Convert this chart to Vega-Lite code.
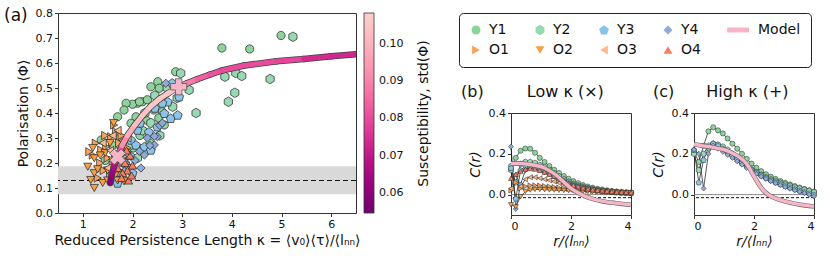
{
  "$schema": "https://vega.github.io/schema/vega-lite/v6.json",
  "padding": {"left": 3, "top": 6, "right": 3, "bottom": 3},
  "config": {
    "font": "DejaVu Sans",
    "view": {"stroke": "#333", "strokeWidth": 1},
    "axis": {"domain": false, "grid": false, "tickColor": "#333", "tickSize": 3.5, "labelColor": "#111", "labelFontSize": 11, "titleFontSize": 14, "titleFontWeight": "normal", "titleColor": "#111", "labelPadding": 2, "labelOverlap": false},
    "title": {"fontSize": 16, "fontWeight": "normal", "color": "#111"},
    "legend": {"labelColor": "#111", "titleColor": "#111"}
  },
  "datasets": {
    "scatter": [
      {"g":"Y1","k":3.8,"p":0.66},{"g":"Y1","k":4.36,"p":0.656},{"g":"Y1","k":4.99,"p":0.71},{"g":"Y1","k":2.87,"p":0.565},{"g":"Y1","k":2.51,"p":0.525},{"g":"Y1","k":2.37,"p":0.505},{"g":"Y1","k":2.54,"p":0.499},{"g":"Y1","k":2.2,"p":0.445},{"g":"Y1","k":2.1,"p":0.439},{"g":"Y1","k":2.0,"p":0.435},{"g":"Y1","k":1.87,"p":0.439},{"g":"Y1","k":1.83,"p":0.412},{"g":"Y1","k":2.14,"p":0.445},{"g":"Y1","k":2.3,"p":0.453},{"g":"Y1","k":1.7,"p":0.385},{"g":"Y1","k":1.97,"p":0.359},{"g":"Y1","k":2.43,"p":0.412},{"g":"Y1","k":2.6,"p":0.405},{"g":"Y1","k":2.27,"p":0.372},{"g":"Y1","k":2.53,"p":0.38},{"g":"Y1","k":2.64,"p":0.352},{"g":"Y1","k":2.07,"p":0.385},{"g":"Y1","k":1.37,"p":0.292},{"g":"Y1","k":1.9,"p":0.3},{"g":"Y1","k":2.15,"p":0.31},{"g":"Y1","k":1.6,"p":0.27},{"g":"Y1","k":1.45,"p":0.21},{"g":"Y1","k":1.8,"p":0.245},{"g":"Y1","k":2.35,"p":0.28},{"g":"Y1","k":2.02,"p":0.26},
      {"g":"Y2","k":5.23,"p":0.705},{"g":"Y2","k":3.86,"p":0.545},{"g":"Y2","k":4.08,"p":0.56},{"g":"Y2","k":4.2,"p":0.548},{"g":"Y2","k":4.77,"p":0.536},{"g":"Y2","k":4.06,"p":0.481},{"g":"Y2","k":3.93,"p":0.445},{"g":"Y2","k":3.28,"p":0.4},{"g":"Y2","k":3.14,"p":0.492},{"g":"Y2","k":2.97,"p":0.559},{"g":"Y2","k":2.81,"p":0.425},{"g":"Y2","k":2.37,"p":0.36},{"g":"Y2","k":2.45,"p":0.47},{"g":"Y2","k":2.7,"p":0.5},{"g":"Y2","k":2.2,"p":0.33},{"g":"Y2","k":2.55,"p":0.31},{"g":"Y2","k":1.95,"p":0.27},{"g":"Y2","k":2.25,"p":0.4},{"g":"Y2","k":2.9,"p":0.46},{"g":"Y2","k":1.75,"p":0.3},{"g":"Y2","k":2.1,"p":0.22},
      {"g":"Y3","k":2.71,"p":0.445},{"g":"Y3","k":2.94,"p":0.465},{"g":"Y3","k":2.77,"p":0.379},{"g":"Y3","k":2.91,"p":0.392},{"g":"Y3","k":2.64,"p":0.399},{"g":"Y3","k":2.5,"p":0.345},{"g":"Y3","k":2.1,"p":0.332},{"g":"Y3","k":2.33,"p":0.324},{"g":"Y3","k":1.97,"p":0.292},{"g":"Y3","k":2.07,"p":0.272},{"g":"Y3","k":2.24,"p":0.265},{"g":"Y3","k":2.37,"p":0.252},{"g":"Y3","k":2.8,"p":0.52},{"g":"Y3","k":2.6,"p":0.44},{"g":"Y3","k":2.45,"p":0.42},{"g":"Y3","k":2.15,"p":0.36},{"g":"Y3","k":1.85,"p":0.2},{"g":"Y3","k":1.95,"p":0.23},{"g":"Y3","k":1.6,"p":0.14},{"g":"Y3","k":1.75,"p":0.16},{"g":"Y3","k":2.0,"p":0.16},{"g":"Y3","k":1.7,"p":0.12},
      {"g":"Y4","k":2.67,"p":0.519},{"g":"Y4","k":2.5,"p":0.305},{"g":"Y4","k":2.44,"p":0.272},{"g":"Y4","k":2.24,"p":0.232},{"g":"Y4","k":2.44,"p":0.307},{"g":"Y4","k":2.17,"p":0.18},{"g":"Y4","k":2.14,"p":0.247},{"g":"Y4","k":2.3,"p":0.3},{"g":"Y4","k":2.55,"p":0.35},{"g":"Y4","k":1.9,"p":0.19},{"g":"Y4","k":2.05,"p":0.21},{"g":"Y4","k":1.85,"p":0.17},{"g":"Y4","k":2.6,"p":0.36},{"g":"Y4","k":2.35,"p":0.27},
      {"g":"O1","k":1.63,"p":0.352},{"g":"O1","k":1.67,"p":0.325},{"g":"O1","k":1.57,"p":0.305},{"g":"O1","k":1.73,"p":0.28},{"g":"O1","k":1.47,"p":0.265},{"g":"O1","k":1.37,"p":0.252},{"g":"O1","k":1.2,"p":0.232},{"g":"O1","k":1.26,"p":0.279},{"g":"O1","k":1.13,"p":0.245},{"g":"O1","k":1.5,"p":0.22},{"g":"O1","k":1.6,"p":0.19},{"g":"O1","k":1.7,"p":0.17},{"g":"O1","k":1.42,"p":0.17},{"g":"O1","k":1.55,"p":0.15},{"g":"O1","k":1.8,"p":0.22},{"g":"O1","k":1.35,"p":0.2},{"g":"O1","k":1.65,"p":0.24},{"g":"O1","k":1.78,"p":0.31},{"g":"O1","k":1.9,"p":0.26},{"g":"O1","k":1.45,"p":0.31},{"g":"O1","k":1.3,"p":0.14},
      {"g":"O2","k":1.1,"p":0.185},{"g":"O2","k":1.23,"p":0.219},{"g":"O2","k":1.23,"p":0.159},{"g":"O2","k":1.16,"p":0.132},{"g":"O2","k":1.23,"p":0.1},{"g":"O2","k":1.83,"p":0.127},{"g":"O2","k":1.4,"p":0.12},{"g":"O2","k":1.5,"p":0.13},{"g":"O2","k":1.3,"p":0.175},{"g":"O2","k":1.45,"p":0.24},{"g":"O2","k":1.55,"p":0.28},{"g":"O2","k":1.6,"p":0.21},{"g":"O2","k":1.75,"p":0.2},{"g":"O2","k":1.35,"p":0.23},{"g":"O2","k":1.2,"p":0.26},{"g":"O2","k":1.65,"p":0.15},{"g":"O2","k":1.9,"p":0.18},{"g":"O2","k":1.7,"p":0.13},{"g":"O2","k":1.5,"p":0.17},{"g":"O2","k":1.62,"p":0.36},
      {"g":"O3","k":1.7,"p":0.33},{"g":"O3","k":1.8,"p":0.29},{"g":"O3","k":1.55,"p":0.25},{"g":"O3","k":1.85,"p":0.24},{"g":"O3","k":1.6,"p":0.31},{"g":"O3","k":1.4,"p":0.28},{"g":"O3","k":1.75,"p":0.26},{"g":"O3","k":1.9,"p":0.3},{"g":"O3","k":1.5,"p":0.18},
      {"g":"O4","k":1.85,"p":0.2},{"g":"O4","k":1.9,"p":0.17},{"g":"O4","k":1.95,"p":0.23},{"g":"O4","k":1.8,"p":0.16},{"g":"O4","k":1.92,"p":0.13},{"g":"O4","k":1.7,"p":0.18},{"g":"O4","k":1.88,"p":0.25},{"g":"O4","k":2.0,"p":0.19},{"g":"O4","k":1.78,"p":0.14},{"g":"O4","k":1.98,"p":0.15}
    ],
    "model": [
      {"k1":1.55,"p1":0.12,"k2":1.58,"p2":0.15,"s":0.058},
      {"k1":1.58,"p1":0.15,"k2":1.62,"p2":0.18,"s":0.062},
      {"k1":1.62,"p1":0.18,"k2":1.66,"p2":0.205,"s":0.067},
      {"k1":1.66,"p1":0.205,"k2":1.71,"p2":0.232,"s":0.073},
      {"k1":1.71,"p1":0.232,"k2":1.79,"p2":0.27,"s":0.082},
      {"k1":1.79,"p1":0.27,"k2":1.9,"p2":0.31,"s":0.092},
      {"k1":1.9,"p1":0.31,"k2":2.05,"p2":0.352,"s":0.099},
      {"k1":2.05,"p1":0.352,"k2":2.2,"p2":0.39,"s":0.103},
      {"k1":2.2,"p1":0.39,"k2":2.37,"p2":0.427,"s":0.105},
      {"k1":2.37,"p1":0.427,"k2":2.55,"p2":0.457,"s":0.106},
      {"k1":2.55,"p1":0.457,"k2":2.71,"p2":0.478,"s":0.106},
      {"k1":2.71,"p1":0.478,"k2":2.85,"p2":0.495,"s":0.105},
      {"k1":2.85,"p1":0.495,"k2":2.95,"p2":0.505,"s":0.102},
      {"k1":2.95,"p1":0.505,"k2":3.1,"p2":0.519,"s":0.096},
      {"k1":3.1,"p1":0.519,"k2":3.3,"p2":0.535,"s":0.089},
      {"k1":3.3,"p1":0.535,"k2":3.55,"p2":0.553,"s":0.084},
      {"k1":3.55,"p1":0.553,"k2":3.8,"p2":0.57,"s":0.081},
      {"k1":3.8,"p1":0.57,"k2":4.25,"p2":0.59,"s":0.08},
      {"k1":4.25,"p1":0.59,"k2":4.9,"p2":0.607,"s":0.08},
      {"k1":4.9,"p1":0.607,"k2":5.45,"p2":0.616,"s":0.079},
      {"k1":5.45,"p1":0.616,"k2":6.0,"p2":0.627,"s":0.074},
      {"k1":6.0,"p1":0.627,"k2":6.5,"p2":0.635,"s":0.073}
    ],
    "markers": [{"m":"low","k":1.7,"p":0.225},{"m":"high","k":2.93,"p":0.505}],
    "modelB": [
      {"r":0,"c":0.152},{"r":0.25,"c":0.153},{"r":0.5,"c":0.15},{"r":0.75,"c":0.145},{"r":1.0,"c":0.137},{"r":1.25,"c":0.12},{"r":1.5,"c":0.096},{"r":1.75,"c":0.063},{"r":2.0,"c":0.03},{"r":2.25,"c":0.008},{"r":2.5,"c":-0.01},{"r":2.75,"c":-0.022},{"r":3.0,"c":-0.031},{"r":3.5,"c":-0.042},{"r":4.0,"c":-0.05}
    ],
    "modelC": [
      {"r":0,"c":0.247},{"r":0.25,"c":0.24},{"r":0.5,"c":0.235},{"r":0.75,"c":0.228},{"r":1.0,"c":0.22},{"r":1.25,"c":0.205},{"r":1.5,"c":0.185},{"r":1.75,"c":0.152},{"r":2.0,"c":0.09},{"r":2.25,"c":0.032},{"r":2.5,"c":-0.003},{"r":2.75,"c":-0.02},{"r":3.0,"c":-0.032},{"r":3.5,"c":-0.048},{"r":4.0,"c":-0.058}
    ],
    "corrB": [
      {"g":"Y1","r":0,"c":0.14},{"g":"Y1","r":0.16,"c":0.18},{"g":"Y1","r":0.32,"c":0.215},{"g":"Y1","r":0.48,"c":0.226},{"g":"Y1","r":0.64,"c":0.225},{"g":"Y1","r":0.8,"c":0.205},{"g":"Y1","r":0.96,"c":0.18},{"g":"Y1","r":1.12,"c":0.16},{"g":"Y1","r":1.28,"c":0.14},{"g":"Y1","r":1.44,"c":0.122},{"g":"Y1","r":1.6,"c":0.106},{"g":"Y1","r":1.76,"c":0.091},{"g":"Y1","r":1.92,"c":0.078},{"g":"Y1","r":2.08,"c":0.066},{"g":"Y1","r":2.24,"c":0.056},{"g":"Y1","r":2.4,"c":0.047},{"g":"Y1","r":2.56,"c":0.04},{"g":"Y1","r":2.72,"c":0.034},{"g":"Y1","r":2.88,"c":0.029},{"g":"Y1","r":3.04,"c":0.025},{"g":"Y1","r":3.2,"c":0.021},{"g":"Y1","r":3.36,"c":0.018},{"g":"Y1","r":3.52,"c":0.015},{"g":"Y1","r":3.68,"c":0.013},{"g":"Y1","r":3.84,"c":0.011},{"g":"Y1","r":4.0,"c":0.01},
      {"g":"Y2","r":0,"c":0.12},{"g":"Y2","r":0.16,"c":0.06},{"g":"Y2","r":0.32,"c":0.15},{"g":"Y2","r":0.48,"c":0.16},{"g":"Y2","r":0.64,"c":0.16},{"g":"Y2","r":0.8,"c":0.155},{"g":"Y2","r":0.96,"c":0.145},{"g":"Y2","r":1.12,"c":0.135},{"g":"Y2","r":1.28,"c":0.12},{"g":"Y2","r":1.44,"c":0.105},{"g":"Y2","r":1.6,"c":0.09},{"g":"Y2","r":1.76,"c":0.075},{"g":"Y2","r":1.92,"c":0.063},{"g":"Y2","r":2.08,"c":0.053},{"g":"Y2","r":2.24,"c":0.045},{"g":"Y2","r":2.4,"c":0.038},{"g":"Y2","r":2.56,"c":0.032},{"g":"Y2","r":2.72,"c":0.027},{"g":"Y2","r":2.88,"c":0.023},{"g":"Y2","r":3.04,"c":0.02},{"g":"Y2","r":3.2,"c":0.017},{"g":"Y2","r":3.36,"c":0.015},{"g":"Y2","r":3.52,"c":0.013},{"g":"Y2","r":3.68,"c":0.011},{"g":"Y2","r":3.84,"c":0.01},{"g":"Y2","r":4.0,"c":0.009},
      {"g":"Y3","r":0,"c":0.13},{"g":"Y3","r":0.16,"c":-0.02},{"g":"Y3","r":0.32,"c":0.12},{"g":"Y3","r":0.48,"c":0.14},{"g":"Y3","r":0.64,"c":0.14},{"g":"Y3","r":0.8,"c":0.135},{"g":"Y3","r":0.96,"c":0.125},{"g":"Y3","r":1.12,"c":0.115},{"g":"Y3","r":1.28,"c":0.105},{"g":"Y3","r":1.44,"c":0.092},{"g":"Y3","r":1.6,"c":0.08},{"g":"Y3","r":1.76,"c":0.068},{"g":"Y3","r":1.92,"c":0.058},{"g":"Y3","r":2.08,"c":0.049},{"g":"Y3","r":2.24,"c":0.042},{"g":"Y3","r":2.4,"c":0.036},{"g":"Y3","r":2.56,"c":0.031},{"g":"Y3","r":2.72,"c":0.026},{"g":"Y3","r":2.88,"c":0.022},{"g":"Y3","r":3.04,"c":0.019},{"g":"Y3","r":3.2,"c":0.016},{"g":"Y3","r":3.36,"c":0.014},{"g":"Y3","r":3.52,"c":0.012},{"g":"Y3","r":3.68,"c":0.01},{"g":"Y3","r":3.84,"c":0.009},{"g":"Y3","r":4.0,"c":0.008},
      {"g":"Y4","r":0,"c":0.235},{"g":"Y4","r":0.16,"c":-0.07},{"g":"Y4","r":0.32,"c":0.05},{"g":"Y4","r":0.48,"c":0.12},{"g":"Y4","r":0.64,"c":0.135},{"g":"Y4","r":0.8,"c":0.13},{"g":"Y4","r":0.96,"c":0.12},{"g":"Y4","r":1.12,"c":0.11},{"g":"Y4","r":1.28,"c":0.1},{"g":"Y4","r":1.44,"c":0.088},{"g":"Y4","r":1.6,"c":0.076},{"g":"Y4","r":1.76,"c":0.065},{"g":"Y4","r":1.92,"c":0.055},{"g":"Y4","r":2.08,"c":0.047},{"g":"Y4","r":2.24,"c":0.04},{"g":"Y4","r":2.4,"c":0.034},{"g":"Y4","r":2.56,"c":0.029},{"g":"Y4","r":2.72,"c":0.025},{"g":"Y4","r":2.88,"c":0.021},{"g":"Y4","r":3.04,"c":0.018},{"g":"Y4","r":3.2,"c":0.016},{"g":"Y4","r":3.36,"c":0.014},{"g":"Y4","r":3.52,"c":0.012},{"g":"Y4","r":3.68,"c":0.01},{"g":"Y4","r":3.84,"c":0.009},{"g":"Y4","r":4.0,"c":0.008},
      {"g":"O1","r":0,"c":0.02},{"g":"O1","r":0.16,"c":0.06},{"g":"O1","r":0.32,"c":0.03},{"g":"O1","r":0.48,"c":0.04},{"g":"O1","r":0.64,"c":0.045},{"g":"O1","r":0.8,"c":0.045},{"g":"O1","r":0.96,"c":0.044},{"g":"O1","r":1.12,"c":0.042},{"g":"O1","r":1.28,"c":0.04},{"g":"O1","r":1.44,"c":0.037},{"g":"O1","r":1.6,"c":0.034},{"g":"O1","r":1.76,"c":0.031},{"g":"O1","r":1.92,"c":0.028},{"g":"O1","r":2.08,"c":0.025},{"g":"O1","r":2.24,"c":0.023},{"g":"O1","r":2.4,"c":0.021},{"g":"O1","r":2.56,"c":0.019},{"g":"O1","r":2.72,"c":0.017},{"g":"O1","r":2.88,"c":0.015},{"g":"O1","r":3.04,"c":0.014},{"g":"O1","r":3.2,"c":0.013},{"g":"O1","r":3.36,"c":0.012},{"g":"O1","r":3.52,"c":0.011},{"g":"O1","r":3.68,"c":0.01},{"g":"O1","r":3.84,"c":0.009},{"g":"O1","r":4.0,"c":0.008},
      {"g":"O2","r":0,"c":-0.05},{"g":"O2","r":0.16,"c":-0.06},{"g":"O2","r":0.32,"c":-0.01},{"g":"O2","r":0.48,"c":0.015},{"g":"O2","r":0.64,"c":0.022},{"g":"O2","r":0.8,"c":0.025},{"g":"O2","r":0.96,"c":0.025},{"g":"O2","r":1.12,"c":0.024},{"g":"O2","r":1.28,"c":0.023},{"g":"O2","r":1.44,"c":0.022},{"g":"O2","r":1.6,"c":0.021},{"g":"O2","r":1.76,"c":0.02},{"g":"O2","r":1.92,"c":0.019},{"g":"O2","r":2.08,"c":0.018},{"g":"O2","r":2.24,"c":0.017},{"g":"O2","r":2.4,"c":0.016},{"g":"O2","r":2.56,"c":0.015},{"g":"O2","r":2.72,"c":0.014},{"g":"O2","r":2.88,"c":0.013},{"g":"O2","r":3.04,"c":0.012},{"g":"O2","r":3.2,"c":0.011},{"g":"O2","r":3.36,"c":0.01},{"g":"O2","r":3.52,"c":0.009},{"g":"O2","r":3.68,"c":0.009},{"g":"O2","r":3.84,"c":0.008},{"g":"O2","r":4.0,"c":0.008},
      {"g":"O3","r":0,"c":0.03},{"g":"O3","r":0.16,"c":0.1},{"g":"O3","r":0.32,"c":0.04},{"g":"O3","r":0.48,"c":0.075},{"g":"O3","r":0.64,"c":0.085},{"g":"O3","r":0.8,"c":0.085},{"g":"O3","r":0.96,"c":0.08},{"g":"O3","r":1.12,"c":0.075},{"g":"O3","r":1.28,"c":0.07},{"g":"O3","r":1.44,"c":0.064},{"g":"O3","r":1.6,"c":0.057},{"g":"O3","r":1.76,"c":0.05},{"g":"O3","r":1.92,"c":0.044},{"g":"O3","r":2.08,"c":0.038},{"g":"O3","r":2.24,"c":0.033},{"g":"O3","r":2.4,"c":0.029},{"g":"O3","r":2.56,"c":0.026},{"g":"O3","r":2.72,"c":0.023},{"g":"O3","r":2.88,"c":0.02},{"g":"O3","r":3.04,"c":0.018},{"g":"O3","r":3.2,"c":0.016},{"g":"O3","r":3.36,"c":0.014},{"g":"O3","r":3.52,"c":0.013},{"g":"O3","r":3.68,"c":0.011},{"g":"O3","r":3.84,"c":0.01},{"g":"O3","r":4.0,"c":0.009},
      {"g":"O4","r":0,"c":0.08},{"g":"O4","r":0.16,"c":0.1},{"g":"O4","r":0.32,"c":0.115},{"g":"O4","r":0.48,"c":0.125},{"g":"O4","r":0.64,"c":0.128},{"g":"O4","r":0.8,"c":0.125},{"g":"O4","r":0.96,"c":0.118},{"g":"O4","r":1.12,"c":0.11},{"g":"O4","r":1.28,"c":0.1},{"g":"O4","r":1.44,"c":0.09},{"g":"O4","r":1.6,"c":0.078},{"g":"O4","r":1.76,"c":0.066},{"g":"O4","r":1.92,"c":0.055},{"g":"O4","r":2.08,"c":0.046},{"g":"O4","r":2.24,"c":0.039},{"g":"O4","r":2.4,"c":0.033},{"g":"O4","r":2.56,"c":0.028},{"g":"O4","r":2.72,"c":0.024},{"g":"O4","r":2.88,"c":0.021},{"g":"O4","r":3.04,"c":0.019},{"g":"O4","r":3.2,"c":0.017},{"g":"O4","r":3.36,"c":0.015},{"g":"O4","r":3.52,"c":0.013},{"g":"O4","r":3.68,"c":0.012},{"g":"O4","r":3.84,"c":0.011},{"g":"O4","r":4.0,"c":0.01}
    ],
    "corrC": [
      {"g":"Y1","r":0,"c":0.21},{"g":"Y1","r":0.16,"c":0.16},{"g":"Y1","r":0.32,"c":0.24},{"g":"Y1","r":0.48,"c":0.31},{"g":"Y1","r":0.64,"c":0.33},{"g":"Y1","r":0.8,"c":0.315},{"g":"Y1","r":0.96,"c":0.3},{"g":"Y1","r":1.12,"c":0.275},{"g":"Y1","r":1.28,"c":0.25},{"g":"Y1","r":1.44,"c":0.225},{"g":"Y1","r":1.6,"c":0.2},{"g":"Y1","r":1.76,"c":0.175},{"g":"Y1","r":1.92,"c":0.152},{"g":"Y1","r":2.08,"c":0.132},{"g":"Y1","r":2.24,"c":0.115},{"g":"Y1","r":2.4,"c":0.1},{"g":"Y1","r":2.56,"c":0.088},{"g":"Y1","r":2.72,"c":0.077},{"g":"Y1","r":2.88,"c":0.067},{"g":"Y1","r":3.04,"c":0.058},{"g":"Y1","r":3.2,"c":0.05},{"g":"Y1","r":3.36,"c":0.042},{"g":"Y1","r":3.52,"c":0.035},{"g":"Y1","r":3.68,"c":0.028},{"g":"Y1","r":3.84,"c":0.021},{"g":"Y1","r":4.0,"c":0.015},
      {"g":"Y2","r":0,"c":0.2},{"g":"Y2","r":0.16,"c":0.12},{"g":"Y2","r":0.32,"c":0.2},{"g":"Y2","r":0.48,"c":0.24},{"g":"Y2","r":0.64,"c":0.25},{"g":"Y2","r":0.8,"c":0.245},{"g":"Y2","r":0.96,"c":0.235},{"g":"Y2","r":1.12,"c":0.22},{"g":"Y2","r":1.28,"c":0.2},{"g":"Y2","r":1.44,"c":0.18},{"g":"Y2","r":1.6,"c":0.16},{"g":"Y2","r":1.76,"c":0.14},{"g":"Y2","r":1.92,"c":0.125},{"g":"Y2","r":2.08,"c":0.11},{"g":"Y2","r":2.24,"c":0.097},{"g":"Y2","r":2.4,"c":0.085},{"g":"Y2","r":2.56,"c":0.075},{"g":"Y2","r":2.72,"c":0.066},{"g":"Y2","r":2.88,"c":0.058},{"g":"Y2","r":3.04,"c":0.05},{"g":"Y2","r":3.2,"c":0.043},{"g":"Y2","r":3.36,"c":0.036},{"g":"Y2","r":3.52,"c":0.03},{"g":"Y2","r":3.68,"c":0.024},{"g":"Y2","r":3.84,"c":0.018},{"g":"Y2","r":4.0,"c":0.012},
      {"g":"Y3","r":0,"c":0.22},{"g":"Y3","r":0.16,"c":0.06},{"g":"Y3","r":0.32,"c":0.17},{"g":"Y3","r":0.48,"c":0.23},{"g":"Y3","r":0.64,"c":0.25},{"g":"Y3","r":0.8,"c":0.24},{"g":"Y3","r":0.96,"c":0.225},{"g":"Y3","r":1.12,"c":0.208},{"g":"Y3","r":1.28,"c":0.19},{"g":"Y3","r":1.44,"c":0.172},{"g":"Y3","r":1.6,"c":0.155},{"g":"Y3","r":1.76,"c":0.138},{"g":"Y3","r":1.92,"c":0.122},{"g":"Y3","r":2.08,"c":0.107},{"g":"Y3","r":2.24,"c":0.094},{"g":"Y3","r":2.4,"c":0.082},{"g":"Y3","r":2.56,"c":0.071},{"g":"Y3","r":2.72,"c":0.061},{"g":"Y3","r":2.88,"c":0.052},{"g":"Y3","r":3.04,"c":0.043},{"g":"Y3","r":3.2,"c":0.035},{"g":"Y3","r":3.36,"c":0.027},{"g":"Y3","r":3.52,"c":0.02},{"g":"Y3","r":3.68,"c":0.013},{"g":"Y3","r":3.84,"c":0.006},{"g":"Y3","r":4.0,"c":0.0},
      {"g":"Y4","r":0,"c":0.22},{"g":"Y4","r":0.16,"c":0.2},{"g":"Y4","r":0.32,"c":0.03},{"g":"Y4","r":0.48,"c":0.2},{"g":"Y4","r":0.64,"c":0.24},{"g":"Y4","r":0.8,"c":0.225},{"g":"Y4","r":0.96,"c":0.21},{"g":"Y4","r":1.12,"c":0.195},{"g":"Y4","r":1.28,"c":0.18},{"g":"Y4","r":1.44,"c":0.163},{"g":"Y4","r":1.6,"c":0.147},{"g":"Y4","r":1.76,"c":0.131},{"g":"Y4","r":1.92,"c":0.116},{"g":"Y4","r":2.08,"c":0.102},{"g":"Y4","r":2.24,"c":0.089},{"g":"Y4","r":2.4,"c":0.077},{"g":"Y4","r":2.56,"c":0.066},{"g":"Y4","r":2.72,"c":0.056},{"g":"Y4","r":2.88,"c":0.046},{"g":"Y4","r":3.04,"c":0.037},{"g":"Y4","r":3.2,"c":0.029},{"g":"Y4","r":3.36,"c":0.021},{"g":"Y4","r":3.52,"c":0.014},{"g":"Y4","r":3.68,"c":0.007},{"g":"Y4","r":3.84,"c":0.0},{"g":"Y4","r":4.0,"c":-0.008}
    ]
  },
  "resolve": {"scale": {"fill": "shared", "shape": "shared", "x": "independent", "y": "independent"}},
  "spacing": 30,
  "hconcat": [
    {
      "resolve": {"scale": {"fill": "shared", "shape": "shared", "x": "independent", "y": "independent"}},
      "spacing": 54,
      "hconcat": [
        {
          "width": 298,
          "height": 200,
          "title": {"text": "(a)", "anchor": "start", "frame": "bounds", "baseline": "top", "offset": -18, "dx": -12, "fontSize": 17},
          "layer": [
            {
              "data": {"values": [{"lo": 0.075, "hi": 0.187}]},
              "mark": {"type": "rect", "color": "#d9d9d9"},
              "encoding": {
                "y": {"field": "lo", "type": "quantitative", "scale": {"domain": [0, 0.8], "nice": false}, "axis": {"values": [0,0.1,0.2,0.3,0.4,0.5,0.6,0.7,0.8], "tickCount": 9, "format": ".1f", "title": "Polarisation ⟨Φ⟩", "titlePadding": 5, "labelOverlap": false}},
                "y2": {"field": "hi"}
              }
            },
            {
              "data": {"values": [{}]},
              "mark": {"type": "rule", "color": "#111", "strokeDash": [5, 3], "strokeWidth": 1.2},
              "encoding": {"y": {"datum": 0.13, "type": "quantitative", "axis": {"values": [0,0.1,0.2,0.3,0.4,0.5,0.6,0.7,0.8], "tickCount": 9, "format": ".1f", "title": "Polarisation ⟨Φ⟩", "titlePadding": 5, "labelOverlap": false}}}
            },
            {
              "data": {"name": "scatter"},
              "mark": {"type": "point", "filled": true, "stroke": "#222", "strokeWidth": 0.7, "size": 68, "opacity": 1, "fillOpacity": 1},
              "encoding": {
                "x": {"field": "k", "type": "quantitative", "scale": {"domain": [0.5, 6.5], "nice": false}, "axis": {"values": [1,2,3,4,5,6], "title": "Reduced Persistence Length κ = ⟨v₀⟩⟨τ⟩/⟨lₙₙ⟩", "titlePadding": 4}},
                "y": {"field": "p", "type": "quantitative", "axis": {"values": [0,0.1,0.2,0.3,0.4,0.5,0.6,0.7,0.8], "tickCount": 9, "format": ".1f", "title": "Polarisation ⟨Φ⟩", "titlePadding": 5, "labelOverlap": false}},
                "fill": {"field": "g", "type": "nominal",
                  "scale": {"domain": ["Y1","Y2","Y3","Y4","Model","O1","O2","O3","O4"], "range": ["#8fd39c","#98d8b2","#8cc3e8","#8eaad8","#f7b6c8","#f7a55e","#f6a044","#fab98e","#f57e5f"]},
                  "legend": {"title": null, "orient": "none", "legendX": 401, "legendY": 0, "direction": "horizontal", "columns": 5, "symbolSize": 80, "symbolStrokeColor": "#222", "symbolStrokeWidth": 0.8, "labelFontSize": 14, "labelOffset": 6, "columnPadding": 24, "rowPadding": 6, "padding": 10, "strokeColor": "#222", "cornerRadius": 4, "fillColor": "white"}},
                "shape": {"field": "g", "type": "nominal",
                  "scale": {"domain": ["Y1","Y2","Y3","Y4","Model","O1","O2","O3","O4"], "range": ["circle","M0,-1.15L1,-0.575L1,0.575L0,1.15L-1,0.575L-1,-0.575Z","M0,-1.05L1.094,-0.255L0.676,1.03L-0.676,1.03L-1.094,-0.255Z","diamond","M-4,-0.55L0.9,-0.55L0.9,0.55L-4,0.55Z","triangle-right","triangle-down","triangle-left","triangle-up"]},
                  "legend": {"title": null, "orient": "none", "legendX": 401, "legendY": 0, "direction": "horizontal", "columns": 5, "symbolSize": 80, "symbolStrokeColor": "#222", "symbolStrokeWidth": 0.8, "labelFontSize": 14, "labelOffset": 6, "columnPadding": 24, "rowPadding": 6, "padding": 10, "strokeColor": "#222", "cornerRadius": 4, "fillColor": "white"}}
              }
            },
            {
              "data": {"name": "model"},
              "mark": {"type": "rule", "color": "#444", "strokeWidth": 6.6, "strokeCap": "round", "clip": true},
              "encoding": {
                "x": {"field": "k1", "type": "quantitative"},
                "y": {"field": "p1", "type": "quantitative"},
                "x2": {"field": "k2"},
                "y2": {"field": "p2"}
              }
            },
            {
              "data": {"name": "model"},
              "mark": {"type": "rule", "strokeWidth": 5, "strokeCap": "round", "clip": true},
              "encoding": {
                "x": {"field": "k1", "type": "quantitative"},
                "y": {"field": "p1", "type": "quantitative"},
                "x2": {"field": "k2"},
                "y2": {"field": "p2"},
                "stroke": {"field": "s", "type": "quantitative",
                  "scale": {"scheme": "redpurple", "reverse": true, "domain": [0.0546, 0.1083], "nice": false, "zero": false},
                  "legend": {"type": "gradient", "orient": "none", "legendX": 306, "legendY": 0, "direction": "vertical", "gradientLength": 200, "gradientThickness": 10, "values": [0.06,0.07,0.08,0.09,0.1], "format": ".2f", "title": null, "labelFontSize": 11, "labelOffset": 5, "gradientStrokeColor": "#333", "gradientStrokeWidth": 0.8, "padding": 0}}
              }
            },
            {
              "data": {"name": "markers"},
              "transform": [{"filter": {"field": "m", "equal": "low"}}],
              "mark": {"type": "point", "shape": "cross", "angle": 45, "filled": true, "fill": "#f7b6c8", "stroke": "#555", "strokeWidth": 0.8, "size": 260, "opacity": 1},
              "encoding": {"x": {"field": "k", "type": "quantitative"}, "y": {"field": "p", "type": "quantitative"}}
            },
            {
              "data": {"name": "markers"},
              "transform": [{"filter": {"field": "m", "equal": "high"}}],
              "mark": {"type": "point", "shape": "cross", "filled": true, "fill": "#f7b6c8", "stroke": "#555", "strokeWidth": 0.8, "size": 260, "opacity": 1},
              "encoding": {"x": {"field": "k", "type": "quantitative"}, "y": {"field": "p", "type": "quantitative"}}
            }
          ]
        },
        {
          "width": 1,
          "height": 200,
          "view": {"stroke": null},
          "data": {"values": [{}]},
          "mark": {"type": "rule", "opacity": 0},
          "encoding": {"y": {"datum": 0.5, "type": "quantitative", "scale": {"domain": [0, 1]}, "axis": {"orient": "right", "title": "Susceptibility, std(Φ)", "labels": false, "ticks": false, "domain": false, "titleAngle": 270, "titlePadding": 0}}}
        }
      ]
    },
    {
      "resolve": {"scale": {"fill": "shared", "shape": "shared", "x": "independent", "y": "independent"}},
      "spacing": 0,
      "vconcat": [
        {
          "width": 300,
          "height": 70,
          "view": {"stroke": null},
          "data": {"values": []},
          "mark": {"type": "point"},
          "encoding": {}
        },
        {
          "resolve": {"scale": {"fill": "shared", "shape": "shared", "x": "independent", "y": "independent"}},
          "spacing": 9,
          "hconcat": [
            {
              "width": 120,
              "height": 102,
              "title": {"text": "(b)\u2003\u2003\u2002\u2009Low κ (×)", "anchor": "start", "frame": "group", "dx": -50, "offset": 7},
              "layer": [
                {"data": {"values": [{}]}, "mark": {"type": "rule", "color": "#888", "strokeWidth": 1}, "encoding": {"y": {"datum": 0, "type": "quantitative", "scale": {"domain": [-0.1, 0.4], "nice": false}, "axis": {"values": [0, 0.2, 0.4], "format": ".1f", "title": "C(r)", "titleFontStyle": "italic", "titlePadding": 6}}}},
                {"data": {"values": [{}]}, "mark": {"type": "rule", "color": "#111", "strokeWidth": 1, "strokeDash": [3, 2]}, "encoding": {"y": {"datum": -0.015, "type": "quantitative"}}},
                {
                  "data": {"name": "corrB"},
                  "mark": {"type": "line", "color": "#111", "strokeWidth": 0.7},
                  "encoding": {
                    "x": {"field": "r", "type": "quantitative", "scale": {"domain": [0, 4], "nice": false}, "axis": {"values": [0,1,2,3,4], "title": "r/⟨lₙₙ⟩", "titleFontStyle": "italic", "titlePadding": 3}},
                    "y": {"field": "c", "type": "quantitative"},
                    "detail": {"field": "g", "type": "nominal"}
                  }
                },
                {
                  "data": {"name": "corrB"},
                  "mark": {"type": "point", "filled": true, "stroke": "#222", "strokeWidth": 0.5, "size": 26, "opacity": 1, "fillOpacity": 1},
                  "encoding": {
                    "x": {"field": "r", "type": "quantitative"},
                    "y": {"field": "c", "type": "quantitative"},
                    "fill": {"field": "g", "type": "nominal"},
                    "shape": {"field": "g", "type": "nominal"}
                  }
                },
                {"data": {"name": "modelB"}, "mark": {"type": "line", "color": "#666", "strokeWidth": 4.6, "interpolate": "monotone"}, "encoding": {"x": {"field": "r", "type": "quantitative"}, "y": {"field": "c", "type": "quantitative"}}},
                {"data": {"name": "modelB"}, "mark": {"type": "line", "color": "#f7b6c8", "strokeWidth": 3.4, "interpolate": "monotone"}, "encoding": {"x": {"field": "r", "type": "quantitative"}, "y": {"field": "c", "type": "quantitative"}}}
              ]
            },
            {
              "width": 120,
              "height": 102,
              "title": {"text": "(c)\u2003\u2003High κ (+)", "anchor": "start", "frame": "group", "dx": -41, "offset": 7},
              "layer": [
                {"data": {"values": [{}]}, "mark": {"type": "rule", "color": "#888", "strokeWidth": 1}, "encoding": {"y": {"datum": 0, "type": "quantitative", "scale": {"domain": [-0.1, 0.4], "nice": false}, "axis": {"values": [0, 0.2, 0.4], "format": ".1f", "title": "C(r)", "titleFontStyle": "italic", "titlePadding": 6}}}},
                {"data": {"values": [{}]}, "mark": {"type": "rule", "color": "#111", "strokeWidth": 1, "strokeDash": [3, 2]}, "encoding": {"y": {"datum": -0.015, "type": "quantitative"}}},
                {
                  "data": {"name": "corrC"},
                  "mark": {"type": "line", "color": "#111", "strokeWidth": 0.7},
                  "encoding": {
                    "x": {"field": "r", "type": "quantitative", "scale": {"domain": [0, 4], "nice": false}, "axis": {"values": [0,1,2,3,4], "title": "r/⟨lₙₙ⟩", "titleFontStyle": "italic", "titlePadding": 3}},
                    "y": {"field": "c", "type": "quantitative"},
                    "detail": {"field": "g", "type": "nominal"}
                  }
                },
                {
                  "data": {"name": "corrC"},
                  "mark": {"type": "point", "filled": true, "stroke": "#222", "strokeWidth": 0.5, "size": 26, "opacity": 1, "fillOpacity": 1},
                  "encoding": {
                    "x": {"field": "r", "type": "quantitative"},
                    "y": {"field": "c", "type": "quantitative"},
                    "fill": {"field": "g", "type": "nominal"},
                    "shape": {"field": "g", "type": "nominal"}
                  }
                },
                {"data": {"name": "modelC"}, "mark": {"type": "line", "color": "#666", "strokeWidth": 4.6, "interpolate": "monotone"}, "encoding": {"x": {"field": "r", "type": "quantitative"}, "y": {"field": "c", "type": "quantitative"}}},
                {"data": {"name": "modelC"}, "mark": {"type": "line", "color": "#f7b6c8", "strokeWidth": 3.4, "interpolate": "monotone"}, "encoding": {"x": {"field": "r", "type": "quantitative"}, "y": {"field": "c", "type": "quantitative"}}}
              ]
            }
          ]
        }
      ]
    }
  ]
}
